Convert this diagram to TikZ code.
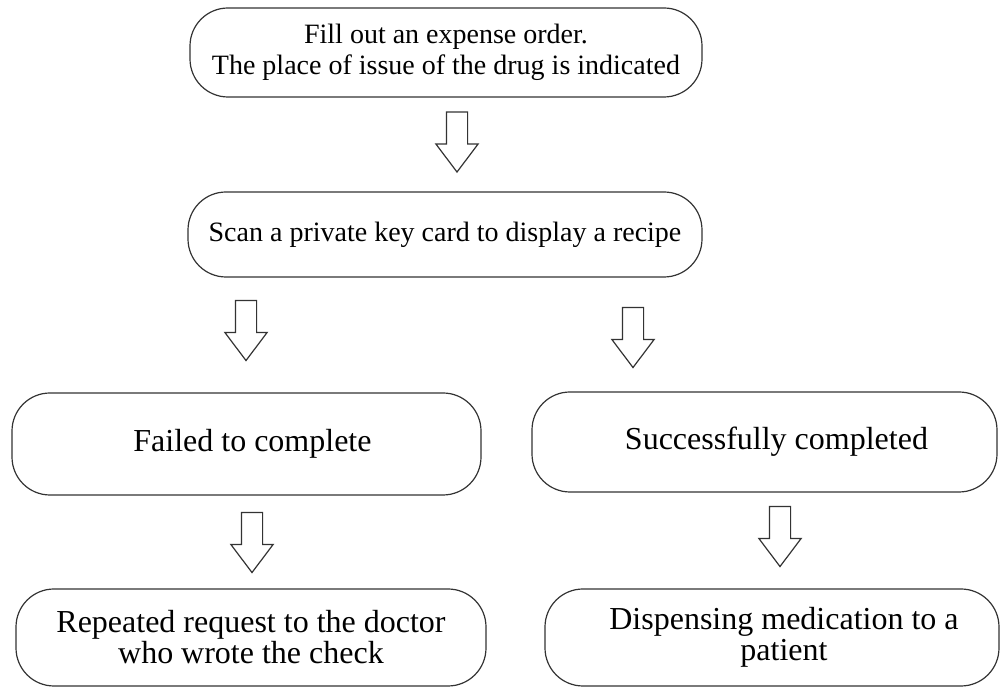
\documentclass[tikz,border=0pt]{standalone}
\usepackage{fontspec}
\setmainfont{Liberation Serif}
\usetikzlibrary{shapes.arrows}

\begin{document}
\begin{tikzpicture}[
  x=0.5pt, y=-0.5pt,
  box/.style   = {
    draw=black!80, line width=0.6pt,
    rounded corners=19pt,
    align=center,
    inner sep=0pt,
    font=\fontsize{16}{15.5}\selectfont
  },
  small/.style = {font=\fontsize{14}{15.5}\selectfont},
  down/.style  = {
    single arrow, draw=black!80, line width=0.6pt,
    shape border rotate=270,
    single arrow head extend=5.25pt,
    single arrow tip angle=74,
    minimum height=30pt,
    inner sep=5pt
  }
]

% ---- frame ----
\useasboundingbox (0,0) rectangle (1002,688);

% ---- nodes ----
\node[box, small, minimum width=256pt, minimum height=44.5pt] (order) at (446,52.5)
  {Fill out an expense order.\\The place of issue of the drug is indicated};

\node[box, small, minimum width=257pt, minimum height=42.5pt] (scan) at (445,234.5)
  {Scan a private key card to display a recipe};

\node[box, minimum width=234.5pt, minimum height=51pt] (failed) at (246.5,444)
  {\hspace*{6pt}Failed to complete};

\node[box, minimum width=232.5pt, minimum height=50pt] (success) at (764.5,442)
  {\hspace*{12pt}Successfully completed};

\node[box, minimum width=235pt, minimum height=48.5pt] (repeat) at (251,637.5)
  {Repeated request to the doctor\\who wrote the check};

\node[box, minimum width=227pt, minimum height=48.5pt] (dispense) at (772,637.5)
  {\hspace*{12pt}Dispensing medication to a\\\hspace*{12pt}patient};

% ---- hollow arrows ----
\node[down] (a1) at (457,135) {};
\node[down] (a2) at (246,323.5) {};
\node[down] (a3) at (633,330.5) {};
\node[down] (a4) at (252,535.5) {};
\node[down] (a5) at (780,529.5) {};

\end{tikzpicture}
\end{document}
